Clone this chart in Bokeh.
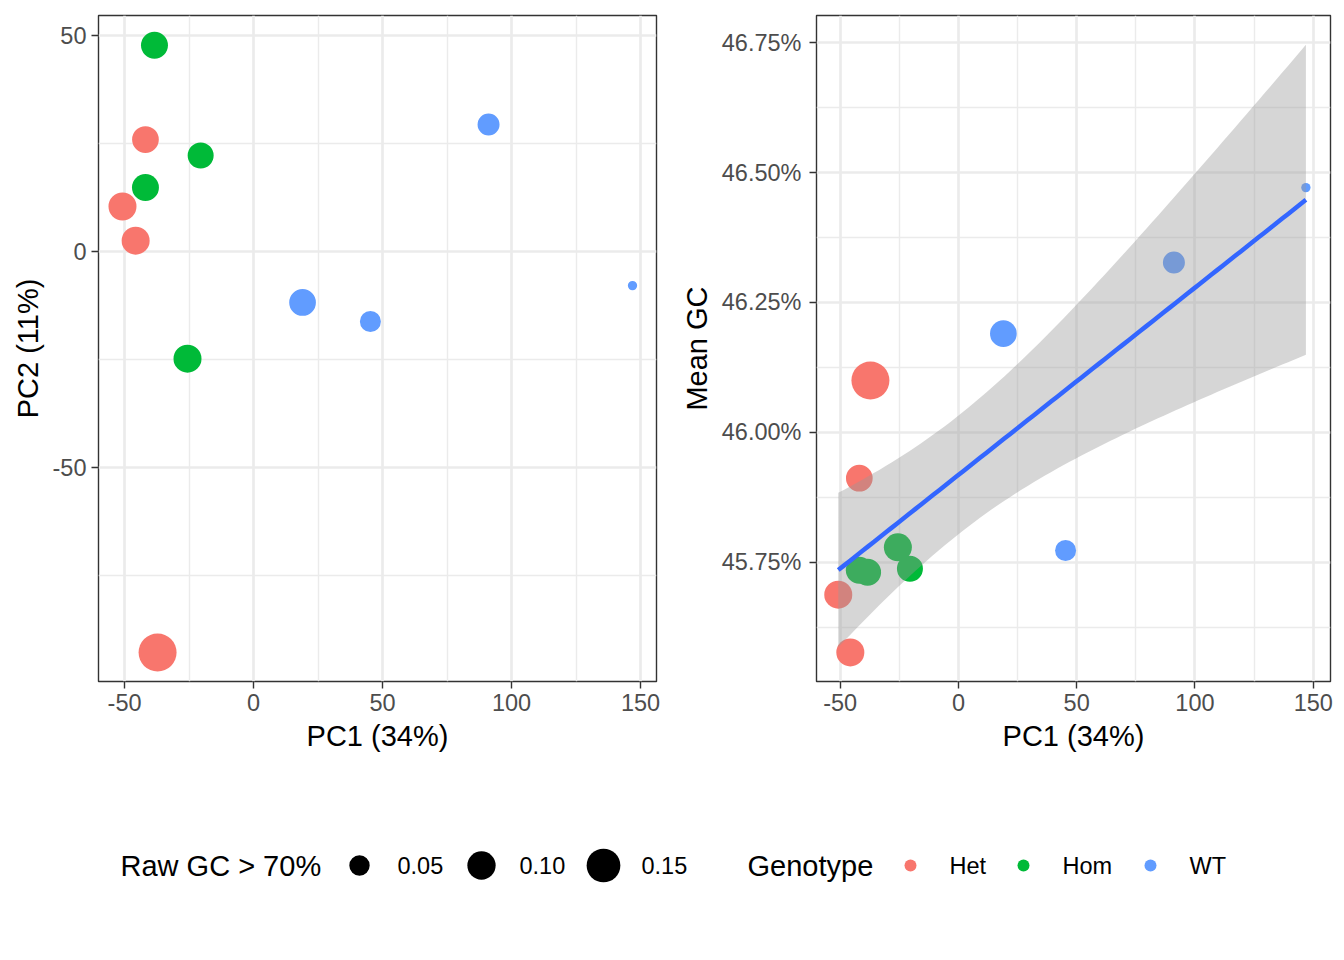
import numpy as np
from bokeh.plotting import figure
from bokeh.layouts import column, row
from bokeh.models import Range1d, FixedTicker, PrintfTickFormatter, ColumnDataSource
from bokeh.embed import file_html
from bokeh.resources import INLINE
from bokeh.core.properties import value

# ---------------- data ----------------
genotype = ["Het", "Het", "Het", "Het", "Hom", "Hom", "Hom", "Hom", "WT", "WT", "WT", "WT"]
pc1 = [-41.9, -50.8, -45.7, -37.2, -38.4, -20.5, -41.9, -25.6, 91.1, 19.0, 45.3, 146.9]
pc2 = [25.9, 10.4, 2.5, -92.8, 47.7, 22.2, 14.8, -24.8, 29.4, -11.8, -16.2, -7.9]
mean_gc = [45.912, 45.688, 45.577, 46.100, 45.731, 45.738, 45.735, 45.779, 46.327, 46.190, 45.773, 46.471]
raw_gc = [0.088, 0.098, 0.098, 0.198, 0.090, 0.083, 0.090, 0.098, 0.058, 0.088, 0.053, 0.024]

genotype_levels = ["Het", "Hom", "WT"]
genotype_colors = ["#F8766D", "#00BA38", "#619CFF"]
size_breaks = [0.05, 0.10, 0.15]
size_labels = ["0.05", "0.10", "0.15"]

x_ticks = [-50, 0, 50, 100, 150]
x_minor = [-25, 25, 75, 125]
pc2_ticks = [-50, 0, 50]
pc2_minor = [-75, -25, 25]
gc_ticks = [45.75, 46.00, 46.25, 46.50, 46.75]
gc_minor = [45.625, 45.875, 46.125, 46.375, 46.625]

FONT = "Liberation Sans"
D_MIN, D_MAX = 9.3, 38.0
vmin, vmax = min(raw_gc), max(raw_gc)


def diam(v):
    return D_MIN + (D_MAX - D_MIN) * np.sqrt((np.asarray(v) - vmin) / (vmax - vmin))


cmap = dict(zip(genotype_levels, genotype_colors))
src = ColumnDataSource(dict(
    pc1=pc1, pc2=pc2, gc=mean_gc,
    size=list(diam(raw_gc)),
    color=[cmap[g] for g in genotype],
))


def style(p, xt, xm, yt, ym):
    p.outline_line_color = "#333333"
    p.outline_line_width = 1.4
    p.xaxis.ticker = FixedTicker(ticks=xt, minor_ticks=xm)
    p.yaxis.ticker = FixedTicker(ticks=yt, minor_ticks=ym)
    p.xaxis.major_label_overrides = {t: str(t) for t in xt}
    for ax in (p.xaxis[0], p.yaxis[0]):
        ax.axis_line_color = None
        ax.major_tick_line_color = "#333333"
        ax.major_tick_line_width = 1.4
        ax.major_tick_out = 7
        ax.major_tick_in = 0
        ax.minor_tick_line_color = None
        ax.major_label_text_font = FONT
        ax.major_label_text_font_size = "23.5px"
        ax.major_label_text_color = "#4D4D4D"
        ax.major_label_standoff = 5
        ax.axis_label_text_font = FONT
        ax.axis_label_text_font_size = "29px"
        ax.axis_label_text_font_style = "normal"
        ax.axis_label_text_color = "black"
        ax.axis_label_standoff = 6
    p.grid.grid_line_color = "#EBEBEB"
    p.grid.grid_line_width = 2.7
    p.grid.minor_grid_line_color = "#EBEBEB"
    p.grid.minor_grid_line_width = 1.4


TOP_H = 790

# ---------------- left panel ----------------
p1 = figure(width=672, height=TOP_H, x_range=Range1d(-60.1, 156.2), y_range=Range1d(-99.5, 54.6),
            output_backend="svg", toolbar_location=None,
            min_border_left=98, min_border_right=16, min_border_top=15, min_border_bottom=109,
            x_axis_label="PC1 (34%)", y_axis_label="PC2 (11%)")
style(p1, x_ticks, x_minor, pc2_ticks, pc2_minor)
p1.yaxis.major_label_overrides = {t: str(t) for t in pc2_ticks}
p1.scatter("pc1", "pc2", source=src, size="size", fill_color="color", line_color=None, marker="circle")

# ---------------- right panel ----------------
p2 = figure(width=664, height=TOP_H, x_range=Range1d(-60.0, 157.3), y_range=Range1d(45.521, 46.802),
            output_backend="svg", toolbar_location=None,
            min_border_left=144, min_border_right=6, min_border_top=15, min_border_bottom=109,
            x_axis_label="PC1 (34%)", y_axis_label="Mean GC")
style(p2, x_ticks, x_minor, gc_ticks, gc_minor)
p2.yaxis.formatter = PrintfTickFormatter(format="%.2f%%")
p2.yaxis.major_label_standoff = 8
p2.scatter("pc1", "gc", source=src, size="size", fill_color="color", line_color=None, marker="circle")

# linear fit with 95% confidence band
x = np.array(pc1)
y = np.array(mean_gc)
n = len(x)
X = np.column_stack([np.ones(n), x])
beta, *_ = np.linalg.lstsq(X, y, rcond=None)
resid = y - X @ beta
s = np.sqrt(np.sum(resid ** 2) / (n - 2))
xg = np.linspace(x.min(), x.max(), 80)
yg = beta[0] + beta[1] * xg
se = s * np.sqrt(1.0 / n + (xg - x.mean()) ** 2 / np.sum((x - x.mean()) ** 2))
t975 = 2.228  # t quantile, df = 10
p2.varea(x=xg, y1=yg - t975 * se, y2=yg + t975 * se, fill_color="#999999", fill_alpha=0.4)
p2.line(xg, yg, line_color="#3366FF", line_width=4.5)

# ---------------- legend ----------------
pl = figure(width=1336, height=150, x_range=Range1d(0, 1336), y_range=Range1d(0, 150),
            output_backend="svg", toolbar_location=None, min_border=0)
pl.axis.visible = False
pl.grid.visible = False
pl.outline_line_color = None
LY = 75
pl.text(x=[120], y=[LY], text=["Raw GC > 70%"], text_font=value(FONT), text_font_size="29px",
        text_baseline="middle", text_align="left", text_color="black")
size_x = [359, 481, 603]
pl.scatter(x=size_x, y=[LY] * 3, size=list(diam(size_breaks)), fill_color="black", line_color=None)
pl.text(x=[sx + 38 for sx in size_x], y=[LY] * 3, text=size_labels, text_font=value(FONT),
        text_font_size="23.5px", text_baseline="middle", text_align="left", text_color="black")
pl.text(x=[747], y=[LY], text=["Genotype"], text_font=value(FONT), text_font_size="29px",
        text_baseline="middle", text_align="left", text_color="black")
geno_x = [910, 1023, 1150]
pl.scatter(x=geno_x, y=[LY] * 3, size=12, fill_color=genotype_colors, line_color=None)
pl.text(x=[gx + 39 for gx in geno_x], y=[LY] * 3, text=genotype_levels, text_font=value(FONT),
        text_font_size="23.5px", text_baseline="middle", text_align="left", text_color="black")

layout = column(row(p1, p2), pl)
open("out.html", "w").write(file_html(layout, INLINE))
